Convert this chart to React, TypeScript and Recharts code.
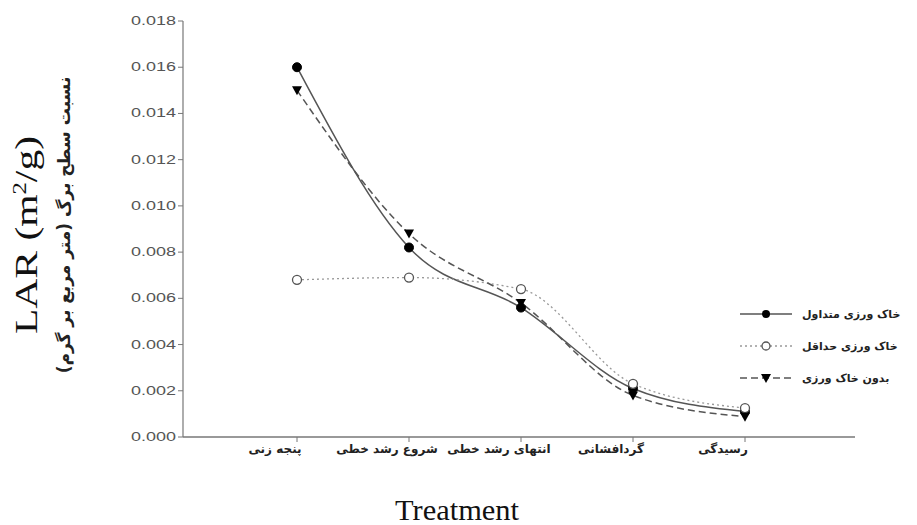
import { Line, LineChart, XAxis, YAxis } from 'recharts';

const stages = ['پنجه زنی', 'شروع رشد خطی', 'انتهای رشد خطی', 'گردافشانی', 'رسیدگی'];
const conventional = [0.016, 0.0082, 0.0056, 0.0021, 0.0011];
const minimum = [0.0068, 0.0069, 0.0064, 0.0023, 0.00125];
const noTillage = [0.015, 0.0088, 0.0058, 0.0018, 0.00088];
const yTicks = [0, 0.002, 0.004, 0.006, 0.008, 0.01, 0.012, 0.014, 0.016, 0.018];

const seriesNames = ['خاک ورزی متداول', 'خاک ورزی حداقل', 'بدون خاک ورزی'];

const data = stages.map((stage, i) => ({
  stage,
  conventional: conventional[i],
  minimum: minimum[i],
  noTillage: noTillage[i],
}));

const FilledDot = (props: any) => {
  const { cx, cy } = props;
  return <circle cx={cx} cy={cy} r={4.5} fill="#000" stroke="#000" />;
};

const OpenDot = (props: any) => {
  const { cx, cy } = props;
  return <circle cx={cx} cy={cy} r={4.5} fill="#fff" stroke="#555" strokeWidth={1.3} />;
};

const TriangleDot = (props: any) => {
  const { cx, cy } = props;
  return <path d={`M${cx - 5},${cy - 4} L${cx + 5},${cy - 4} L${cx},${cy + 5} Z`} fill="#000" />;
};

const legendItems = [
  { name: seriesNames[0], dash: undefined, color: '#555', marker: 'filled' },
  { name: seriesNames[1], dash: '2 3', color: '#999', marker: 'open' },
  { name: seriesNames[2], dash: '7 4', color: '#555', marker: 'tri' },
];

const ChartLegend = () => (
  <div style={{ position: 'absolute', left: 740, top: 303, display: 'flex', flexDirection: 'column', gap: 10 }}>
    {legendItems.map((item) => (
      <div key={item.name} style={{ display: 'flex', alignItems: 'center', height: 22 }}>
        <svg width={52} height={14}>
          <line x1={0} y1={7} x2={52} y2={7} stroke={item.color} strokeWidth={1.5} strokeDasharray={item.dash} />
          {item.marker === 'filled' && <circle cx={26} cy={7} r={4} fill="#000" />}
          {item.marker === 'open' && <circle cx={26} cy={7} r={4} fill="#fff" stroke="#555" strokeWidth={1.3} />}
          {item.marker === 'tri' && <path d="M21,3 L31,3 L26,12 Z" fill="#000" />}
        </svg>
        <span
          style={{
            marginLeft: 10,
            fontFamily: 'DejaVu Sans',
            fontSize: 11,
            fontWeight: 'bold',
            color: '#222',
            direction: 'rtl',
          }}
        >
          {item.name}
        </span>
      </div>
    ))}
  </div>
);

// tick labels in the source are drawn wide, so stretch them a little
const YTick = (props: any) => {
  const { x, y, payload } = props;
  return (
    <text
      x={x}
      y={y}
      dy={4}
      textAnchor="end"
      fontFamily="Liberation Sans"
      fontSize={13}
      fill="#555"
      textLength={45}
      lengthAdjust="spacingAndGlyphs"
    >
      {payload.value.toFixed(3)}
    </text>
  );
};

const YLabel = (props: any) => {
  const { viewBox } = props;
  const cy = viewBox.y + viewBox.height / 2 + 6;
  return (
    <g>
      <text
        x={37}
        y={cy}
        transform={`rotate(-90 37 ${cy})`}
        textAnchor="middle"
        fontFamily="Liberation Serif"
        fontSize={32}
        fill="#111"
        textLength={198}
        lengthAdjust="spacingAndGlyphs"
      >
        LAR (m
        <tspan dy={-11} fontSize={19}>
          2
        </tspan>
        <tspan dy={11}>/g)</tspan>
      </text>
      <text
        x={70}
        y={cy - 10}
        transform={`rotate(-90 70 ${cy - 10})`}
        textAnchor="middle"
        fontFamily="DejaVu Sans"
        fontSize={17}
        fontWeight="bold"
        fill="#222"
        direction="rtl"
      >
        نسبت سطح برگ (متر مربع بر گرم)
      </text>
    </g>
  );
};

const XLabel = () => (
  <text
    x={457}
    y={520}
    textAnchor="middle"
    fontFamily="Liberation Serif"
    fontSize={29}
    fill="#111"
    textLength={124}
    lengthAdjust="spacingAndGlyphs"
  >
    Treatment
  </text>
);

export default function App() {
  return (
    <div style={{ position: 'absolute', left: 0, top: 0, width: 917, height: 525, background: '#fff' }}>
      <LineChart width={917} height={525} data={data} margin={{ top: 21, right: 62, bottom: 0, left: 123 }}>
        <XAxis
          dataKey="stage"
          height={88}
          interval={0}
          padding={{ left: 114, right: 110 }}
          axisLine={{ stroke: '#777', strokeWidth: 1.5 }}
          tickLine={{ stroke: '#777' }}
          tickSize={5}
          tick={{ fontFamily: 'DejaVu Sans', fontSize: 12, fontWeight: 'bold', fill: '#222', dx: -22 }}
          label={<XLabel />}
        />
        <YAxis
          width={60}
          domain={[0, 0.018]}
          ticks={yTicks}
          axisLine={{ stroke: '#777', strokeWidth: 1.2 }}
          tickLine={{ stroke: '#777' }}
          tickSize={5}
          tick={<YTick />}
          label={<YLabel />}
        />
        <Line
          type="monotone"
          dataKey="conventional"
          name={seriesNames[0]}
          stroke="#555"
          strokeWidth={1.5}
          dot={<FilledDot />}
          isAnimationActive={false}
        />
        <Line
          type="monotone"
          dataKey="minimum"
          name={seriesNames[1]}
          stroke="#999"
          strokeWidth={1.3}
          strokeDasharray="2 3"
          dot={<OpenDot />}
          isAnimationActive={false}
        />
        <Line
          type="monotone"
          dataKey="noTillage"
          name={seriesNames[2]}
          stroke="#555"
          strokeWidth={1.5}
          strokeDasharray="7 4"
          dot={<TriangleDot />}
          isAnimationActive={false}
        />
      </LineChart>
      <ChartLegend />
    </div>
  );
}
